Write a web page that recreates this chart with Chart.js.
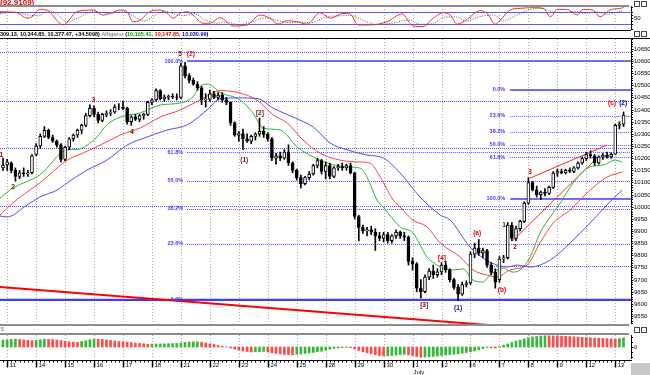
<!DOCTYPE html>
<html>
<head>
<meta charset="utf-8">
<script src="https://cdn.jsdelivr.net/npm/chart.js@4.4.1/dist/chart.umd.min.js"></script>
<style>
  html, body { margin: 0; padding: 0; background: #fff; }
  body { position: relative; width: 650px; height: 375px; overflow: hidden; }
  canvas { position: absolute; left: 0; }
</style>
</head>
<body>
<canvas id="frame" width="650" height="375" style="top:0"></canvas>
<canvas id="stoch" width="650" height="24" style="top:6px"></canvas>
<canvas id="main" width="650" height="285" style="top:39px"></canvas>
<canvas id="ao" width="650" height="40" style="top:335px"></canvas>
<script>
// hourly bars, index 0 = last bar of 10 June
const xMin = -0.73, xMax = 151.8;

const open = [10160,10172,10180,10150,10125,10140,10135,10140,10215,10250,10290,10315,10285,10270,10255,10195,10245,10280,10295,10315,10335,10375,10405,10380,10355,10380,10385,10390,10410,10410,10405,10350,10370,10360,10375,10380,10430,10440,10478,10445,10450,10455,10452,10450,10580,10540,10520,10505,10490,10440,10442,10465,10450,10460,10440,10430,10345,10295,10300,10280,10270,10290,10300,10310,10298,10280,10200,10210,10200,10225,10180,10150,10120,10095,10120,10135,10170,10190,10145,10170,10125,10160,10165,10160,10170,10140,9960,9915,9900,9905,9895,9880,9870,9885,9860,9880,9895,9880,9875,9775,9765,9665,9650,9710,9735,9720,9732,9760,9740,9700,9668,9640,9680,9686,9805,9830,9810,9820,9760,9730,9700,9785,9790,9925,9870,9910,9940,10015,10100,10070,10050,10060,10055,10080,10139,10145,10140,10150,10145,10160,10180,10198,10215,10210,10180,10205,10212,10205,10216,10335,10340];
const high = [10200,10195,10185,10160,10150,10160,10150,10215,10260,10300,10330,10320,10295,10275,10260,10250,10285,10300,10320,10340,10385,10420,10415,10390,10385,10395,10400,10420,10425,10435,10410,10375,10380,10380,10385,10435,10445,10485,10482,10460,10460,10465,10465,10590,10595,10548,10530,10515,10495,10465,10480,10475,10470,10470,10450,10432,10350,10310,10320,10300,10295,10305,10365,10330,10305,10285,10220,10225,10235,10255,10185,10155,10130,10125,10145,10175,10200,10195,10185,10180,10165,10175,10180,10175,10180,10142,9965,9925,9915,9920,9910,9895,9895,9895,9885,9905,9900,9895,9880,9790,9770,9700,9720,9745,9760,9745,9770,9775,9745,9705,9680,9690,9695,9815,9850,9865,9830,9825,9770,9745,9795,9800,9935,9935,9920,9945,10020,10120,10105,10085,10065,10075,10085,10145,10155,10155,10155,10160,10165,10185,10205,10225,10230,10215,10210,10220,10225,10222,10340,10350,10390];
const low = [10150,10150,10140,10105,10115,10125,10125,10135,10210,10240,10285,10280,10265,10245,10185,10190,10235,10270,10285,10300,10330,10370,10370,10345,10350,10370,10375,10385,10400,10400,10340,10335,10355,10350,10360,10375,10420,10435,10440,10435,10440,10445,10440,10445,10530,10510,10500,10480,10420,10410,10435,10445,10440,10430,10420,10335,10290,10270,10235,10265,10260,10275,10290,10285,10270,10190,10175,10190,10195,10170,10140,10110,10078,10090,10110,10130,10160,10135,10115,10115,10120,10150,10150,10150,10135,9950,9860,9890,9880,9885,9820,9860,9855,9850,9850,9870,9870,9860,9760,9740,9650,9625,9645,9700,9705,9710,9720,9730,9690,9660,9614,9635,9670,9680,9790,9800,9790,9750,9720,9665,9690,9770,9785,9860,9860,9900,9935,10010,10065,10040,10030,10045,10050,10075,10125,10135,10135,10140,10140,10155,10175,10190,10200,10170,10175,10195,10200,10200,10215,10320,10330];
const close = [10172,10185,10150,10125,10140,10135,10140,10210,10250,10290,10315,10285,10270,10255,10195,10245,10280,10295,10315,10335,10375,10405,10380,10355,10380,10385,10390,10410,10410,10405,10350,10370,10360,10375,10380,10430,10440,10478,10445,10450,10455,10452,10450,10580,10540,10520,10505,10490,10440,10442,10465,10450,10460,10440,10430,10345,10295,10300,10280,10270,10290,10300,10310,10298,10280,10200,10210,10200,10225,10180,10150,10120,10095,10120,10135,10170,10190,10145,10170,10125,10160,10165,10160,10170,10140,9960,9915,9900,9905,9895,9880,9870,9885,9860,9880,9895,9880,9875,9775,9765,9665,9650,9710,9735,9720,9732,9760,9740,9700,9668,9640,9680,9686,9805,9830,9810,9820,9760,9730,9690,9785,9790,9925,9870,9910,9940,10015,10100,10070,10050,10060,10055,10080,10139,10145,10140,10150,10145,10160,10180,10198,10215,10210,10180,10205,10212,10205,10216,10335,10340,10377];

// alligator lines, [bar index, price]
const jaw = [[-0.73,9962],[1,9958],[5.8,10007],[8.9,10040],[13.1,10069],[15.5,10098],[20.3,10151],[25.1,10192],[30,10254],[34.8,10287],[39.7,10316],[44.5,10337],[49.3,10398],[52.5,10445],[57,10448],[61.4,10446],[65.3,10406],[70.1,10369],[75,10328],[79.1,10262],[83.2,10234],[88,10213],[91.9,10201],[96,10139],[100.8,10040],[105.7,9966],[108.1,9945],[112.9,9834],[117.7,9772],[121.9,9752],[124.3,9760],[127.4,9752],[132.3,9781],[137.1,9851],[141.9,9933],[146.7,10020],[149.7,10069]];
const teeth = [[-0.73,9966],[2.4,10016],[6.5,10069],[8.9,10098],[15.5,10192],[19.3,10221],[23.5,10254],[28.3,10295],[33.1,10324],[38,10369],[42.8,10398],[47.6,10439],[52.5,10478],[57.3,10468],[61.4,10439],[65.3,10378],[68.7,10345],[72.5,10275],[76.6,10221],[81.5,10192],[86.3,10184],[88.7,10180],[91.2,10122],[94.3,10028],[96,9999],[99.1,9945],[102.5,9917],[105.7,9851],[110.5,9793],[113.6,9740],[117,9719],[119.4,9711],[122.6,9740],[126.7,9760],[129.8,9851],[133,9933],[137.1,9987],[141.2,10057],[146,10122],[149.7,10143]];
const lips = [[-0.73,10036],[2.4,10077],[8.9,10131],[15.5,10234],[17.9,10236],[22.7,10287],[25.1,10337],[28.3,10369],[33.1,10386],[38,10419],[42.8,10427],[45.9,10452],[47.6,10495],[49.6,10505],[52.5,10470],[57.3,10440],[60.4,10386],[62.9,10324],[67,10316],[71.1,10246],[75,10205],[78.3,10180],[83.2,10164],[86.3,10159],[88,10122],[90.4,10028],[91.9,9999],[96,9917],[99.1,9892],[102.5,9793],[104.9,9760],[106.4,9748],[108.8,9740],[111.2,9744],[113.6,9698],[116.1,9690],[117.3,9711],[119.4,9740],[120.9,9748],[123.1,9731],[125,9740],[127.4,9793],[129.8,9892],[132.3,9958],[134.7,10015],[137.8,10098],[141.9,10164],[145.1,10172],[148,10192],[149.7,10184]];

// drawn trend lines
const baseTrend = [[-0.73,9670],[117.3,9513]];
const channelTop = [[127.4,10118],[146,10254]];
const channelLow = [[123.3,9862],[143.6,10201]];

// horizontal levels
const levelLines = [10637, 10435, 10242, 10003];
const extraLevel = [117.7, 9756];
const fibLeftPct = ['100.0%','61.8%','50.0%','38.2%','23.6%','0.0%'];
const fibLeftPrice = [10600, 10224, 10108, 9992, 9848, 9617];
const fibLeftFrom = 44.5;
const fibRightPct = ['0.0%','23.6%','38.2%','50.0%','61.8%','100.0%'];
const fibRightPrice = [10481, 10375, 10309, 10256, 10203, 10032];
const fibRightFrom = 122.6;

// wave labels: [bar index, price, text, colour]
const waves = [
  [-0.4,10213,'1','#800000'],[2.4,10081,'2','#800000'],[21.8,10439,'3','#b00000'],[31.2,10308,'4','#800000'],
  [42.8,10629,'5','#800000'],[45.4,10629,'(2)','#ff0000'],[58.3,10192,'(1)','#800000'],[62.1,10386,'[2]','#800000'],
  [101.8,9595,'[3]','#800000'],[106.1,9789,'[4]','#e00000'],[110,9583,'(1)','#000080'],[114.6,9892,'(a)','#e00000'],
  [120.6,9657,'(b)','#e00000'],[121.1,9925,'1','#800000'],[123.8,9834,'2','#800000'],[127.4,10143,'3','#e00000'],
  [147.2,10427,'(c)','#ff0000'],[149.9,10427,'(2)','#000080']
];

const priceTicks = [9550,9600,9650,9700,9750,9800,9850,9900,9950,10000,10050,10100,10150,10200,10250,10300,10350,10400,10450,10500,10550,10600,10650];

// stochastic, [bar index, value]
const stochK = [[-0.73,80],[3.4,75],[5.8,49],[7,56],[8.9,91],[10.6,88],[14.5,17],[17.9,80],[21.8,88],[24.2,64],[25.9,72],[28.3,88],[30,80],[31.4,32],[33.1,40],[35.5,80],[38,88],[39.7,72],[41.1,49],[42.8,72],[44.5,80],[45.9,64],[48.4,25],[50,25],[52.5,52],[55.6,12],[59,17],[62.1,64],[64.6,49],[66.5,21],[68.7,37],[71.1,32],[73.5,21],[76.6,75],[79.1,49],[82.2,72],[83.9,69],[85.8,17],[88.7,17],[92.8,32],[96.5,69],[99.1,12],[101.5,9],[104,49],[106.4,75],[108.1,64],[109.8,21],[112.2,44],[115.3,85],[117,72],[119,21],[120.2,40],[122.6,88],[125,96],[128.1,99],[130.6,96],[132.3,56],[134,91],[136.4,91],[138.8,64],[140.2,91],[142.6,88],[144.3,56],[146.7,88],[149.2,96],[150,100]];
const stochD = [[-0.73,70],[3,78],[6,65],[8.5,60],[11,85],[13,70],[15.5,30],[18.5,55],[22,82],[25.5,72],[29,80],[31.5,60],[34,35],[36.5,60],[39,82],[42,65],[44,62],[46,72],[49,40],[51.5,25],[54,30],[57,18],[60,30],[63,50],[66,40],[69,28],[72,30],[74.5,28],[78,55],[81,60],[84,62],[87,40],[90,20],[94,25],[98,40],[101,20],[104,25],[107,55],[109.5,55],[112,35],[115,55],[118.5,65],[121,38],[124,62],[127,88],[130,97],[133,78],[135.5,75],[138,82],[141,72],[143.5,80],[146,68],[148.5,78],[150,88]];
const stochLevels = [80, 20];

// awesome oscillator, one value per bar
const ao = [68,72,76,79,76,72,67,63,66,72,78,77,74,70,65,58,52,48,46,55,63,72,78,77,74,70,66,60,55,52,49,45,40,36,32,28,29,30,31,32,33,34,35,40,45,50,52,53,48,40,32,25,15,8,2,-10,-20,-30,-40,-45,-50,-48,-46,-45,-50,-58,-65,-70,-75,-76,-78,-74,-70,-65,-60,-55,-48,-42,-30,-22,-15,-10,-6,-4,-6,-20,-35,-48,-58,-68,-78,-85,-90,-88,-85,-80,-76,-72,-78,-85,-95,-102,-100,-97,-94,-90,-85,-80,-76,-72,-68,-62,-56,-48,-40,-28,-16,-6,-8,-10,5,18,30,45,58,70,82,92,100,105,110,113,112,111,110,108,106,104,102,100,97,95,92,90,88,85,83,81,79,85,92];

// x axis
const dayStart = [1,8,15,22,29,36,43,50,57,64,71,78,85,92,99,106,113,120,127,134,141,148];
const dayLabels = ['11','14','15','16','17','18','21','22','23','24','25','28','29','30','1','2','6','7','8','9','12','13'];

const FONT = '"Liberation Sans", Arial, sans-serif';

// ---------- frame (separators, header texts) ----------
function drawFrame() {
    const ctx = document.getElementById('frame').getContext('2d');
    ctx.fillStyle = '#fff';
    ctx.fillRect(0, 0, 650, 375);

    ctx.font = 'bold 8px ' + FONT;
    ctx.fillStyle = '#e00000';
    ctx.textBaseline = 'alphabetic';
    ctx.fillText('(92.9109)', 0, 5);

    ctx.fillStyle = '#8c8c8c';
    ctx.fillRect(0, 5, 629, 2);
    ctx.fillRect(0, 324, 629, 2);
    ctx.fillRect(0, 333, 629, 2);
    ctx.fillStyle = '#000';
    ctx.fillRect(0, 30, 631, 1);
    ctx.fillRect(0, 38, 650, 1);

    // legend line of the price pane
    const parts = [
        ['309.13, 10,344.85, 10,377.47, +34.5098)', '#000'],
        [' Alligator ', '#8a8a8a'], ['(', '#000'], ['10,105.41', '#00a000'], [', ', '#000'],
        ['10,147.85', '#e00000'], [', ', '#000'], ['10,030.99', '#0000e0'], [')', '#000']
    ];
    ctx.font = 'bold 5.5px ' + FONT;
    ctx.textBaseline = 'middle';
    let tx = 0;
    parts.forEach(([t, c]) => {
        ctx.fillStyle = c;
        ctx.fillText(t, tx, 34.5);
        tx += ctx.measureText(t).width;
    });

    // small pane buttons at right
    ctx.strokeStyle = '#444';
    ctx.lineWidth = 1;
    [1, 31, 327].forEach(yy => {
        ctx.strokeRect(634.5, yy + 0.5, 5, 5);
        ctx.strokeRect(641.5, yy + 0.5, 5, 5);
    });

    ctx.fillStyle = '#c8c8c8';
    ctx.fillRect(631, 363, 19, 12);
    ctx.fillStyle = '#555';
    ctx.font = '5px ' + FONT;
    ctx.fillText('5', 1, 330);
}
drawFrame();

// ---------- shared helpers ----------
const dayGrid = {
    id: 'dayGrid',
    beforeDatasetsDraw(chart) {
        const {ctx, chartArea: a, scales: {x}} = chart;
        ctx.save();
        ctx.strokeStyle = '#a8a8a8';
        ctx.setLineDash([1, 2]);
        ctx.lineWidth = 1;
        dayStart.forEach(i => {
            const px = Math.round(x.getPixelForValue(i)) + 0.5;
            ctx.beginPath();
            ctx.moveTo(px, a.top);
            ctx.lineTo(px, a.bottom);
            ctx.stroke();
        });
        ctx.restore();
    }
};

function rightAxis(chart, ticks, minor, fmt) {
    const {ctx, chartArea: a, scales: {y}} = chart;
    ctx.save();
    ctx.strokeStyle = '#000';
    ctx.lineWidth = 1;
    ctx.beginPath();
    ctx.moveTo(a.right + 0.5, a.top);
    ctx.lineTo(a.right + 0.5, a.bottom);
    ctx.stroke();
    minor.forEach(v => {
        const py = Math.round(y.getPixelForValue(v)) + 0.5;
        ctx.beginPath(); ctx.moveTo(a.right, py); ctx.lineTo(a.right + 2, py); ctx.stroke();
    });
    ctx.fillStyle = '#000';
    ctx.font = '6px ' + FONT;
    ctx.textBaseline = 'middle';
    ticks.forEach(v => {
        const py = Math.round(y.getPixelForValue(v)) + 0.5;
        ctx.beginPath(); ctx.moveTo(a.right, py); ctx.lineTo(a.right + 2.5, py); ctx.stroke();
        ctx.fillText(fmt(v), a.right + 3, py);
    });
    ctx.restore();
}

function baseOptions(yMin, yMax, bottomPad) {
    return {
        responsive: false,
        animation: false,
        devicePixelRatio: 1,
        layout: {padding: {left: 0, right: 19, top: 0, bottom: bottomPad}},
        plugins: {legend: {display: false}, tooltip: {enabled: false}},
        scales: {
            x: {type: 'linear', min: xMin, max: xMax, offset: false, display: false},
            y: {min: yMin, max: yMax, display: false}
        }
    };
}

function toPts(arr) {
    return arr.map(p => ({x: p[0], y: p[1]}));
}

// ---------- oscillator pane ----------
const stochDecor = {
    id: 'stochDecor',
    beforeDatasetsDraw(chart) {
        const {ctx, chartArea: a, scales: {y}} = chart;
        ctx.save();
        ctx.strokeStyle = '#5a5aff';
        ctx.lineWidth = 1.2;
        stochLevels.forEach(v => {
            const py = Math.round(y.getPixelForValue(v)) + 0.5;
            ctx.beginPath(); ctx.moveTo(a.left, py); ctx.lineTo(a.right, py); ctx.stroke();
        });
        ctx.restore();
    },
    afterDraw(chart) {
        rightAxis(chart, [50], [0, 20, 35, 65, 80, 100], v => String(v));
    }
};

new Chart(document.getElementById('stoch'), {
    type: 'line',
    data: {
        datasets: [
            {data: toPts(stochD), borderColor: '#555', borderWidth: 1, borderDash: [1, 1.5], pointRadius: 0, cubicInterpolationMode: 'monotone'},
            {data: toPts(stochK), borderColor: '#ff2a2a', borderWidth: 1, pointRadius: 0, cubicInterpolationMode: 'monotone'}
        ]
    },
    options: baseOptions(-7.1, 107.1, 0),
    plugins: [dayGrid, stochDecor]
});

// ---------- price pane ----------
const bodies = close.map((c, i) => ({x: i, y: [open[i], c]}));
const wicks = close.map((c, i) => ({x: i, y: [low[i], high[i]]}));
const bodyColors = close.map((c, i) => c >= open[i] ? '#ffffff' : '#000000');

function hline(ctx, x0, x1, py) {
    ctx.beginPath();
    ctx.moveTo(x0, py);
    ctx.lineTo(x1, py);
    ctx.stroke();
}

const mainDecor = {
    id: 'mainDecor',
    beforeDatasetsDraw(chart) {
        const {ctx, chartArea: a, scales: {x, y}} = chart;
        const py = v => Math.round(y.getPixelForValue(v)) + 0.5;
        ctx.save();
        ctx.lineWidth = 1;
        ctx.strokeStyle = '#5050ff';
        ctx.setLineDash([1, 1]);
        levelLines.forEach(v => hline(ctx, a.left, a.right, py(v)));
        hline(ctx, x.getPixelForValue(extraLevel[0]), a.right, py(extraLevel[1]));
        fibLeftPrice.forEach((v, k) => {
            if (k > 0 && k < fibLeftPrice.length - 1) hline(ctx, x.getPixelForValue(fibLeftFrom), a.right, py(v));
        });
        fibRightPrice.forEach((v, k) => {
            if (k > 0 && k < fibRightPrice.length - 1) hline(ctx, x.getPixelForValue(fibRightFrom), a.right, py(v));
        });
        ctx.setLineDash([]);
        ctx.strokeStyle = '#3c3cff';
        ctx.lineWidth = 1.5;
        hline(ctx, x.getPixelForValue(fibLeftFrom), a.right, y.getPixelForValue(fibLeftPrice[0]));
        hline(ctx, x.getPixelForValue(fibRightFrom), a.right, y.getPixelForValue(fibRightPrice[0]));
        hline(ctx, x.getPixelForValue(fibRightFrom), a.right, y.getPixelForValue(fibRightPrice[fibRightPrice.length - 1]));
        ctx.lineWidth = 2.2;
        hline(ctx, a.left, a.right, y.getPixelForValue(fibLeftPrice[fibLeftPrice.length - 1]));
        ctx.restore();
    },
    afterDatasetsDraw(chart) {
        const {ctx, scales: {x, y}} = chart;
        ctx.save();
        ctx.font = 'bold 5.5px ' + FONT;
        ctx.fillStyle = '#3c3cff';
        ctx.textAlign = 'right';
        ctx.textBaseline = 'middle';
        fibLeftPrice.forEach((v, k) => ctx.fillText(fibLeftPct[k], x.getPixelForValue(fibLeftFrom) - 4, y.getPixelForValue(v)));
        fibRightPrice.forEach((v, k) => ctx.fillText(fibRightPct[k], x.getPixelForValue(fibRightFrom) - 5, y.getPixelForValue(v)));

        ctx.font = 'bold 6.5px ' + FONT;
        ctx.textAlign = 'center';
        waves.forEach(([i, p, t, c]) => {
            ctx.fillStyle = c;
            ctx.fillText(t, x.getPixelForValue(i), y.getPixelForValue(p));
        });
        ctx.restore();
    },
    afterDraw(chart) {
        const minor = [];
        for (let v = 9520; v <= 10690; v += 10) minor.push(v);
        rightAxis(chart, priceTicks, minor, v => String(v));
    }
};

const lineStyle = {type: 'line', pointRadius: 0, borderWidth: 1, cubicInterpolationMode: 'monotone', order: 2};

new Chart(document.getElementById('main'), {
    type: 'bar',
    data: {
        datasets: [
            {...lineStyle, data: toPts(jaw), borderColor: '#4b4bff'},
            {...lineStyle, data: toPts(teeth), borderColor: '#ff4040'},
            {...lineStyle, data: toPts(lips), borderColor: '#2db52d'},
            {...lineStyle, data: toPts(baseTrend), borderColor: '#ff0000', borderWidth: 2, cubicInterpolationMode: 'default', tension: 0},
            {...lineStyle, data: toPts(channelTop), borderColor: '#ff2020', borderWidth: 1, cubicInterpolationMode: 'default', tension: 0},
            {...lineStyle, data: toPts(channelLow), borderColor: '#ff2020', borderWidth: 1, cubicInterpolationMode: 'default', tension: 0},
            {data: wicks, backgroundColor: '#000', barThickness: 1, grouped: false, order: 1},
            {data: bodies, backgroundColor: bodyColors, borderColor: '#000', borderWidth: 1,
             borderSkipped: false, barThickness: 3, grouped: false, order: 0}
        ]
    },
    options: baseOptions(9517.3, 10690.6, 0),
    plugins: [dayGrid, mainDecor]
});

// ---------- AO pane + time axis ----------
const aoColors = ao.map((v, i) => (i === 0 || v >= ao[i - 1]) ? '#36b836' : '#ff4a4a');

const aoDecor = {
    id: 'aoDecor',
    afterDraw(chart) {
        const {ctx, chartArea: a, scales: {x}} = chart;
        rightAxis(chart, [0], [-100, -50, 50, 100], v => String(v));
        ctx.save();
        const base = a.bottom + 1.5;
        ctx.strokeStyle = '#000';
        ctx.lineWidth = 1;
        ctx.beginPath(); ctx.moveTo(0, base); ctx.lineTo(a.right + 1, base); ctx.stroke();
        for (let i = 0; i < close.length; i++) {
            const px = Math.round(x.getPixelForValue(i)) + 0.5;
            ctx.beginPath(); ctx.moveTo(px, base); ctx.lineTo(px, base + 2); ctx.stroke();
        }
        ctx.font = '6px ' + FONT;
        ctx.fillStyle = '#000';
        ctx.textBaseline = 'top';
        dayStart.forEach((i, k) => {
            const px = Math.round(x.getPixelForValue(i)) + 0.5;
            ctx.lineWidth = 1.5;
            ctx.beginPath(); ctx.moveTo(px, base); ctx.lineTo(px, base + 7); ctx.stroke();
            ctx.fillText(dayLabels[k], px + 2, base + 2);
            if (dayLabels[k] === '1') ctx.fillText('July', px, base + 9);
        });
        ctx.restore();
    }
};

new Chart(document.getElementById('ao'), {
    type: 'bar',
    data: {
        datasets: [{data: ao.map((v, i) => ({x: i, y: v})), backgroundColor: aoColors, barThickness: 2}]
    },
    options: baseOptions(-120, 120, 16),
    plugins: [dayGrid, aoDecor]
});
</script>
</body>
</html>
